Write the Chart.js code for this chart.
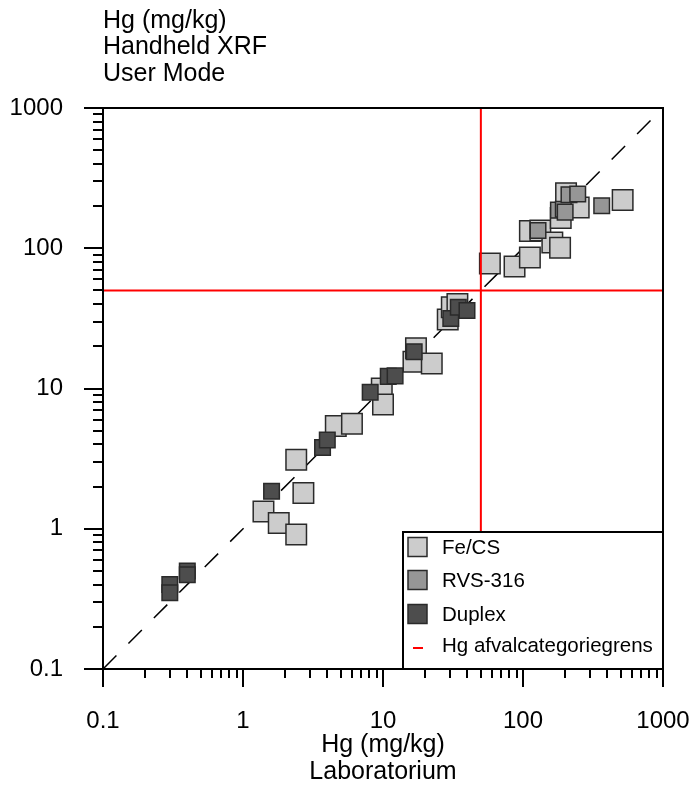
<!DOCTYPE html>
<html>
<head>
<meta charset="utf-8">
<script src="https://cdn.jsdelivr.net/npm/chart.js@4.4.1/dist/chart.umd.min.js"></script>
<style>
  body { margin: 0; background: #fff; }
  canvas { display: block; }
</style>
</head>
<body>
<canvas id="hgChart" width="696" height="789"></canvas>
<script>
// Laboratorium (x) vs handheld XRF (y), Hg in mg/kg
const feCsLab = [1.4, 1.8, 2.4, 2.4, 2.7, 4.6, 6.0, 9.8, 10.0, 16.5, 17.2, 22.3, 29, 31, 34, 58, 87, 112, 112, 133, 162, 184, 186, 203, 250, 515];
const feCsXrf = [1.33, 1.1, 0.91, 3.1, 1.8, 5.4, 5.6, 10.0, 7.7, 15.5, 19.4, 15.1, 31, 38, 40, 78, 74, 86, 133, 134, 110, 101, 164, 247, 195, 221];

const rvsLab = [128, 179, 194, 200, 213, 246, 365];
const rvsXrf = [134, 187, 190, 181, 241, 244, 201];

const duplexLab = [0.3, 0.3, 0.4, 0.4, 1.6, 3.7, 4.0, 8.1, 10.9, 12.2, 16.7, 30.5, 34.5, 39.8];
const duplexXrf = [0.40, 0.35, 0.50, 0.47, 1.85, 3.8, 4.3, 9.4, 12.2, 12.3, 18.3, 31.6, 38, 36];

const hgLimit = 50;                         // Hg afvalcategoriegrens
const axisRange = [0.1, 1000];
const decadeTicks = [0.1, 1, 10, 100, 1000];

const fontFamily = '"Liberation Sans", Arial, sans-serif';

function toPoints(xs, ys) {
    return xs.map((v, i) => ({ x: v, y: ys[i] }));
}

function isDecade(v) {
    return decadeTicks.some(d => Math.abs(d - v) < d * 1e-6);
}

function buildLogTicks(scale) {
    const ticks = [];
    for (let i = 0; i < decadeTicks.length - 1; i++) {
        for (let k = 1; k < 10; k++) {
            ticks.push({ value: decadeTicks[i] * k });
        }
    }
    ticks.push({ value: decadeTicks[decadeTicks.length - 1] });
    scale.ticks = ticks;
}

const markerSets = [
    { label: 'Fe/CS', fill: '#cccccc', size: 14.5, order: 3, data: toPoints(feCsLab, feCsXrf) },
    { label: 'RVS-316', fill: '#969696', size: 11, order: 2, data: toPoints(rvsLab, rvsXrf) },
    { label: 'Duplex', fill: '#4d4d4d', size: 11, order: 1, data: toPoints(duplexLab, duplexXrf) }
];

const datasets = markerSets.map(s => ({
    label: s.label,
    data: s.data,
    order: s.order,
    pointStyle: 'rect',
    pointRadius: s.size,
    pointHoverRadius: s.size,
    backgroundColor: s.fill,
    borderColor: '#2a2a2a',
    borderWidth: 1.5
}));

// 1:1 line
datasets.push({
    label: '1:1',
    data: axisRange.map(v => ({ x: v, y: v })),
    showLine: true,
    pointRadius: 0,
    borderColor: '#000',
    borderWidth: 1.5,
    borderDash: [19, 17],
    order: 10
});

// limit lines
datasets.push({
    label: 'Hg afvalcategoriegrens',
    data: axisRange.map(v => ({ x: hgLimit, y: v })),
    showLine: true,
    pointRadius: 0,
    borderColor: '#ff0000',
    borderWidth: 2,
    order: 0
});
datasets.push({
    label: 'limit-h',
    data: axisRange.map(v => ({ x: v, y: hgLimit })),
    showLine: true,
    pointRadius: 0,
    borderColor: '#ff0000',
    borderWidth: 2,
    order: 0
});

const frameAndTicks = {
    id: 'frameAndTicks',
    afterDraw(chart) {
        const { ctx, chartArea: { left, right, top, bottom }, scales: { x, y } } = chart;
        ctx.save();
        ctx.strokeStyle = '#000';
        ctx.lineWidth = 2;
        ctx.beginPath();
        x.ticks.forEach(t => {
            const px = Math.round(x.getPixelForValue(t.value));
            const len = isDecade(t.value) ? 18 : 9;
            ctx.moveTo(px, bottom);
            ctx.lineTo(px, bottom + len);
        });
        y.ticks.forEach(t => {
            const py = Math.round(y.getPixelForValue(t.value));
            const len = isDecade(t.value) ? 19 : 10;
            ctx.moveTo(left, py);
            ctx.lineTo(left - len, py);
        });
        ctx.stroke();
        ctx.strokeRect(left, top, right - left, bottom - top);

        // legend box, bottom right inside plot
        const bx = right - 260, by = bottom - 137;
        ctx.fillStyle = '#fff';
        ctx.fillRect(bx, by, right - bx, bottom - by);
        ctx.strokeRect(bx, by, right - bx, bottom - by);
        ctx.font = '20.5px ' + fontFamily;
        ctx.textBaseline = 'middle';
        const rows = [by + 15, by + 48, by + 82];
        markerSets.forEach((s, i) => {
            ctx.fillStyle = s.fill;
            ctx.fillRect(bx + 5, rows[i] - 9.5, 19, 19);
            ctx.lineWidth = 1.5;
            ctx.strokeStyle = '#2a2a2a';
            ctx.strokeRect(bx + 5, rows[i] - 9.5, 19, 19);
            ctx.fillStyle = '#000';
            ctx.fillText(s.label, bx + 39, rows[i] + 1);
        });
        const ly = by + 116;
        ctx.strokeStyle = '#ff0000';
        ctx.lineWidth = 2;
        ctx.beginPath();
        ctx.moveTo(bx + 10, ly);
        ctx.lineTo(bx + 20, ly);
        ctx.stroke();
        ctx.fillStyle = '#000';
        ctx.fillText('Hg afvalcategoriegrens', bx + 39, ly - 2);
        ctx.restore();
    }
};

const tickFont = { family: fontFamily, size: 24 };

// invisible tick marks only reserve room between axis and labels
function hiddenGrid(len) {
    return { display: true, drawOnChartArea: false, drawTicks: true, tickLength: len, color: 'rgba(0,0,0,0)' };
}

const config = {
    type: 'scatter',
    data: { datasets: datasets },
    options: {
        responsive: false,
        animation: false,
        layout: { padding: { left: 0, right: 33, top: 0, bottom: 0 } },
        plugins: {
            legend: { display: false },
            tooltip: { enabled: false },
            title: {
                display: true,
                text: ['Hg (mg/kg)', 'Handheld XRF', 'User Mode'],
                align: 'start',
                fullSize: false,
                color: '#000',
                font: { family: fontFamily, size: 25, weight: 'normal', lineHeight: 1.06 },
                padding: { top: 7.5, bottom: 21 }
            }
        },
        scales: {
            x: {
                type: 'logarithmic',
                min: axisRange[0],
                max: axisRange[1],
                afterBuildTicks: buildLogTicks,
                afterFit(scale) { scale.height = 120; },
                grid: hiddenGrid(36),
                border: { display: false },
                ticks: {
                    autoSkip: false,
                    maxRotation: 0,
                    padding: 2,
                    color: '#000',
                    font: tickFont,
                    callback: v => isDecade(v) ? String(v) : ''
                },
                title: {
                    display: true,
                    text: ['Hg (mg/kg)', 'Laboratorium'],
                    color: '#000',
                    font: { family: fontFamily, size: 25, lineHeight: 1.06 },
                    padding: { top: 0, bottom: 4 }
                }
            },
            y: {
                type: 'logarithmic',
                min: axisRange[0],
                max: axisRange[1],
                afterBuildTicks: buildLogTicks,
                afterFit(scale) { scale.width = 103; },
                grid: hiddenGrid(38),
                border: { display: false },
                ticks: {
                    autoSkip: false,
                    padding: 2,
                    color: '#000',
                    font: tickFont,
                    callback: v => isDecade(v) ? String(v) : ''
                }
            }
        }
    },
    plugins: [frameAndTicks]
};

const hgChart = new Chart(document.getElementById('hgChart'), config);
</script>
</body>
</html>
